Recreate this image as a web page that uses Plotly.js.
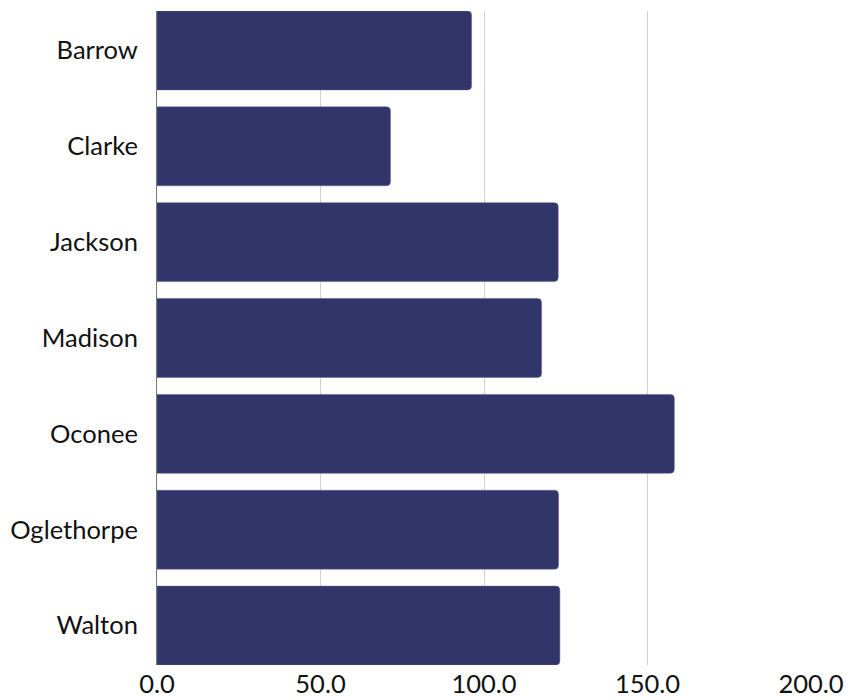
<!DOCTYPE html>
<html>
<head>
<meta charset="utf-8">
<script src="https://cdn.plot.ly/plotly-3.0.1.min.js"></script>
<style>
    html, body { margin: 0; padding: 0; background: #ffffff; }
    #chart { width: 848px; height: 700px; }
</style>
</head>
<body>
<div id="chart"></div>
<script>
// counties, top to bottom
let counties = ["Barrow", "Clarke", "Jackson", "Madison", "Oconee", "Oglethorpe", "Walton"];
let values = [96.2, 71.4, 122.7, 117.6, 158.2, 122.8, 123.2];
let x_ticks = [0, 50, 100, 150, 200];
let x_tick_labels = ["0.0", "50.0", "100.0", "150.0", "200.0"];

let bar_gap = 0.177;

let data = [{
    type: "bar",
    orientation: "h",
    x: values,
    y: counties,
    hoverinfo: "skip",
    marker: {
        color: "#31356a",
        line: {color: "#5d6088", width: 0.5}
    }
}];

// keep the outer bars flush with the plot edges
let half = (1 - bar_gap) / 2;
let layout = {
    showlegend: false,
    paper_bgcolor: "#ffffff",
    plot_bgcolor: "#ffffff",
    margin: {l: 157, r: 37, t: 11, b: 35},
    bargap: bar_gap,
    barcornerradius: 4,
    font: {family: "Lato, 'Open Sans', sans-serif", size: 25.5, color: "#111111"},
    xaxis: {
        range: [0, 200],
        tickvals: x_ticks,
        ticktext: x_tick_labels,
        showgrid: true,
        gridcolor: "#d0d0d0",
        gridwidth: 1,
        zeroline: false,
        showline: false,
        ticks: "",
        ticklabelstandoff: 1,
        fixedrange: true
    },
    yaxis: {
        type: "category",
        range: [counties.length - 1 + half, -half],
        showgrid: false,
        zeroline: false,
        showline: true,
        linecolor: "#777777",
        linewidth: 1,
        ticks: "",
        ticklabelstandoff: 13,
        fixedrange: true
    }
};

let config = {displayModeBar: false, staticPlot: true};

Plotly.newPlot("chart", data, layout, config);
</script>
</body>
</html>
